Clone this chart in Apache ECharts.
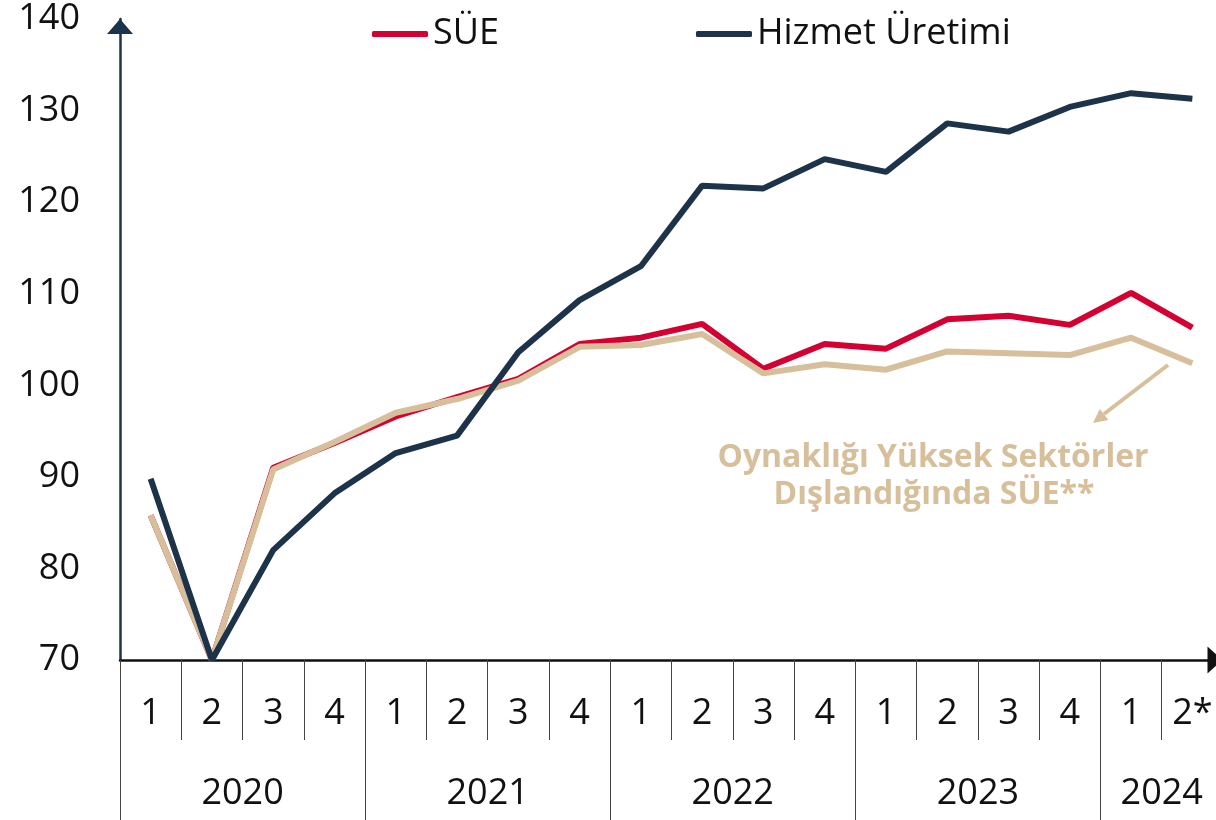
<!DOCTYPE html>
<html>
<head>
<meta charset="utf-8">
<script src="https://cdn.jsdelivr.net/npm/echarts@6/dist/echarts.min.js"></script>
<style>
  html, body { margin: 0; padding: 0; background: #fff; }
  #chart { width: 1216px; height: 820px; }
</style>
</head>
<body>
<div id="chart"></div>
<script>
// ceyrekler (2020Q1 - 2024Q2*)
const quarters = ['1','2','3','4','1','2','3','4','1','2','3','4','1','2','3','4','1','2*']
const years = ['2020','2021','2022','2023','2024']
const yearBounds = [0, 4, 8, 12, 16]
const yearCenters = [2, 6, 10, 14, 17]

const sue = [85.8, 70, 91.0, 93.7, 96.6, 98.7, 100.7, 104.5, 105.2, 106.7, 101.8, 104.5, 104.0, 107.2, 107.6, 106.6, 110.1, 106.3]
const hizmet = [89.8, 70, 82.0, 88.2, 92.6, 94.5, 103.6, 109.3, 113.0, 121.8, 121.5, 124.7, 123.3, 128.6, 127.7, 130.4, 131.9, 131.3]
const sueExcl = [85.8, 70, 90.8, 93.8, 97.0, 98.5, 100.5, 104.2, 104.4, 105.6, 101.3, 102.3, 101.7, 103.7, 103.5, 103.3, 105.2, 102.4]

const RED = '#d50032'
const NAVY = '#1c3349'
const BEIGE = '#d6bf9a'
const FONT = 'Open Sans'

const myChart = echarts.init(document.getElementById('chart'))

const annoStyle = {
  font: 'bold 32px "Open Sans"',
  fill: BEIGE,
  align: 'center',
  verticalAlign: 'middle'
}

const option = {
  animation: false,
  textStyle: { fontFamily: FONT },
  legend: {
    data: ['SÜE', 'Hizmet Üretimi'],
    left: 372,
    top: 16,
    padding: 0,
    itemWidth: 56,
    itemHeight: 6,
    itemGap: 197,
    icon: 'roundRect',
    textStyle: { fontSize: 36, color: '#111', fontFamily: FONT }
  },
  // grafik alani sag kenardan biraz tasiyor (son ceyrek yarim gorunuyor)
  grid: { left: 120, width: 1103, top: 19, bottom: 160, outerBoundsMode: 'none', containLabel: false },
  xAxis: [
    {
      type: 'category',
      data: quarters,
      boundaryGap: true,
      axisLine: {
        lineStyle: { color: '#111', width: 2.5 },
        symbol: ['none', 'triangle'],
        symbolSize: [27, 15],
        symbolOffset: [0, -8]
      },
      axisTick: { show: true, interval: 0, length: 80, lineStyle: { color: '#444', width: 1 } },
      axisLabel: { interval: 0, fontSize: 36, color: '#111', margin: 36 }
    },
    {
      type: 'value',
      min: 0,
      max: 18,
      position: 'bottom',
      axisLine: { show: false },
      splitLine: { show: false },
      axisTick: { show: true, customValues: yearBounds, length: 160, lineStyle: { color: '#444', width: 1 } },
      axisLabel: {
        customValues: yearCenters,
        fontSize: 36,
        color: '#111',
        margin: 116,
        formatter: v => years[yearCenters.indexOf(v)]
      }
    }
  ],
  yAxis: {
    type: 'value',
    min: 70,
    max: 140,
    interval: 10,
    axisLine: {
      show: true,
      lineStyle: { color: NAVY, width: 2.5 },
      symbol: ['none', 'triangle'],
      symbolSize: [26, 15],
      symbolOffset: [0, -7.5]
    },
    axisTick: { show: false },
    splitLine: { show: false },
    axisLabel: { fontSize: 36, color: '#111', margin: 40 }
  },
  series: [
    {
      name: 'SÜE',
      type: 'line',
      data: sue,
      symbol: 'none',
      lineStyle: { color: RED, width: 6 },
      itemStyle: { color: RED }
    },
    {
      name: 'Oynaklığı Yüksek Sektörler Dışlandığında SÜE**',
      type: 'line',
      data: sueExcl,
      symbol: 'none',
      lineStyle: { color: BEIGE, width: 6 },
      itemStyle: { color: BEIGE }
    },
    {
      name: 'Hizmet Üretimi',
      type: 'line',
      data: hizmet,
      symbol: 'none',
      lineStyle: { color: NAVY, width: 6 },
      itemStyle: { color: NAVY }
    }
  ],
  graphic: [
    {
      type: 'text',
      x: 933,
      y: 458,
      style: Object.assign({ text: 'Oynaklığı Yüksek Sektörler' }, annoStyle)
    },
    {
      type: 'text',
      x: 934,
      y: 495,
      style: Object.assign({ text: 'Dışlandığında SÜE**' }, annoStyle)
    },
    {
      type: 'line',
      shape: { x1: 1168, y1: 365, x2: 1104, y2: 414 },
      style: { stroke: BEIGE, lineWidth: 4 }
    },
    {
      type: 'polygon',
      shape: { points: [[1093, 423], [1108.4, 419.9], [1099.8, 408.9]] },
      style: { fill: BEIGE }
    }
  ]
}

myChart.setOption(option)
</script>
</body>
</html>
